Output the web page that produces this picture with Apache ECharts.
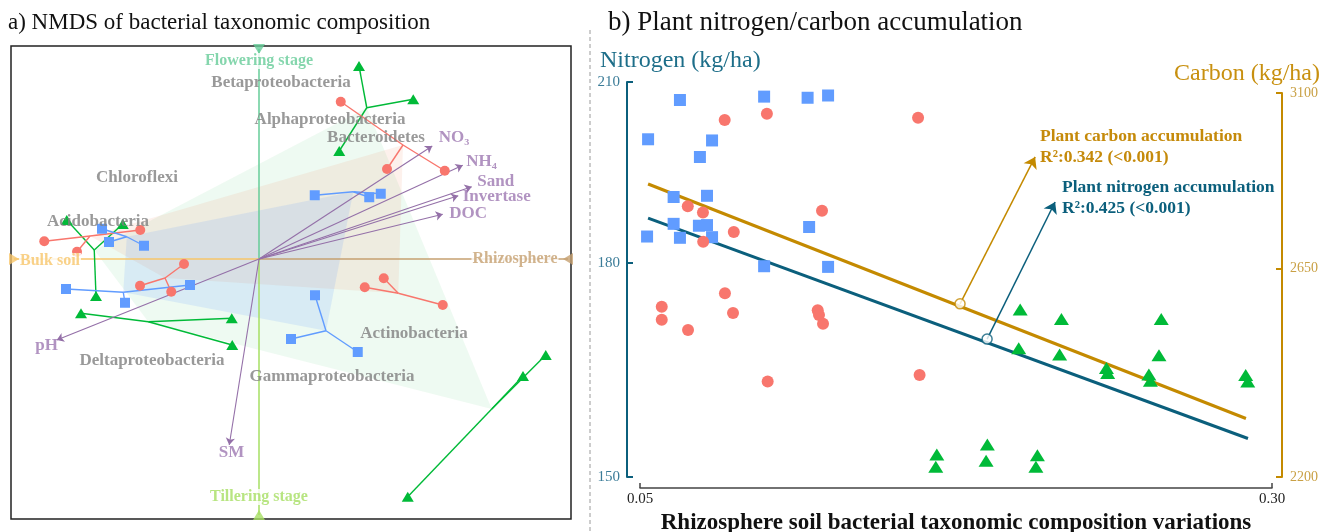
<!DOCTYPE html>
<html><head><meta charset="utf-8">
<script src="https://cdn.jsdelivr.net/npm/echarts@6/dist/echarts.min.js"></script>
<style>html,body{margin:0;padding:0;background:#fff}#c{width:1325px;height:532px}</style>
</head><body><div id="c"></div>
<script>
// ================= Panel a) NMDS data (NMDS1, NMDS2) =================
// groups listed in hull order; each group: centroid + 3 samples
const redCentroids = [[0.576,0.456],[0.557,-0.137],[-0.376,-0.076],[-0.676,0.092]];
const redSamples = [
  [[0.327,0.629],[0.512,0.360],[0.743,0.353]],
  [[0.423,-0.113],[0.499,-0.077],[0.735,-0.184]],
  [[-0.300,-0.020],[-0.476,-0.107],[-0.351,-0.131]],
  [[-0.859,0.071],[-0.728,0.029],[-0.475,0.116]]
];
const blueCentroids = [[0.377,0.269],[0.268,-0.287],[-0.543,-0.133],[-0.529,0.089]];
const blueSamples = [
  [[0.223,0.255],[0.441,0.247],[0.487,0.261]],
  [[0.224,-0.145],[0.128,-0.320],[0.395,-0.372]],
  [[-0.772,-0.120],[-0.536,-0.175],[-0.276,-0.104]],
  [[-0.628,0.121],[-0.600,0.068],[-0.460,0.053]]
];
const greenCentroids = [[0.431,0.605],[0.931,-0.600],[-0.443,-0.251],[-0.659,0.036]];
const greenSamples = [
  [[0.400,0.772],[0.617,0.639],[0.321,0.432]],
  [[1.147,-0.384],[1.056,-0.468],[0.595,-0.951]],
  [[-0.712,-0.217],[-0.109,-0.237],[-0.107,-0.344]],
  [[-0.769,0.156],[-0.545,0.140],[-0.652,-0.148]]
];
const envNames = ['NO\u2083','NH\u2084','Sand','Invertase','DOC','pH','SM'];
const envVectors = [[0.693,0.452],[0.815,0.375],[0.851,0.289],[0.797,0.253],[0.735,0.179],[-0.809,-0.324],[-0.119,-0.744]];
const taxaNames = ['Betaproteobacteria','Alphaproteobacteria','Bacteroidetes','Chloroflexi','Acidobacteria','Deltaproteobacteria','Gammaproteobacteria','Actinobacteria'];
const taxaScores = [[0.088,0.704],[0.284,0.556],[0.468,0.484],[-0.488,0.324],[-0.644,0.148],[-0.428,-0.408],[0.292,-0.472],[0.620,-0.300]];
const gradientNames = ['Flowering stage','Tillering stage','Bulk soil','Rhizosphere'];
const gradientEnds = [[0,0.84],[0,-1.024],[-0.98,0],[1.236,0]];
const gradientLabelAt = [[0,0.792],[0,-0.952],[-0.836,-0.008],[1.024,0]];

// ================= Panel b) data =================
const blueX = [0.0658,0.0991,0.1163,0.1244,0.0532,0.0785,0.0737,0.0633,0.0765,0.0633,0.0733,0.0765,0.0528,0.0658,0.0785,0.1169,0.0991,0.1244];
const blueN = [206.8,207.4,207.2,207.6,200.0,199.8,197.0,190.4,190.6,186.1,185.8,185.9,184.1,183.9,184.0,185.6,179.5,179.4];
const redX = [0.0835,0.1002,0.1600,0.0689,0.0749,0.1220,0.0871,0.0750,0.0836,0.0586,0.0586,0.0868,0.1203,0.1208,0.1224,0.0690,0.1005,0.1606];
const redN = [203.3,204.4,203.7,188.9,187.9,188.2,184.8,183.3,175.4,173.4,171.5,172.5,172.9,172.2,170.9,170.0,162.7,163.6];
const greenX = [0.2004,0.2167,0.2562,0.1998,0.2160,0.2345,0.2350,0.2553,0.2513,0.2519,0.2896,0.2904,0.1674,0.1670,0.1874,0.1869,0.2072,0.2066];
const greenN = [173.0,171.6,171.6,167.4,166.5,164.6,163.9,166.4,163.7,162.8,163.6,162.7,152.9,151.3,154.2,152.1,152.8,151.3];
const fitNX = [0.0532,0.2905];
const fitN = [187.0,155.0];
const fitCX = [0.0532,0.2897];
const fitC = [2858,2318];
const annoCarbonX = [0.1766,0.2063];
const annoCarbonY = [2568,2928];
const annoNitroX = [0.1873,0.2142];
const annoNitroY = [168.7,189.6];
const nTicks = [150,180,210];
const cTicks = [2200,2650,3100];
const xTicks = [0.05,0.30];

// ================= styles =================
const SERIF = '"Liberation Serif","Times New Roman",serif';
const C_RED = '#F8766D', C_GREEN = '#00BA38', C_BLUE = '#619CFF';
const C_N = '#0b5f7c', C_C = '#c48a00';
const L = Math.log10;

function hull(cents, color){
  return {type:'custom', xAxisIndex:0, yAxisIndex:0, z:1, silent:true, data:[0],
    renderItem:(p, api)=>({type:'polygon', shape:{points:cents.map(c=>api.coord(c))}, style:{fill:color}})};
}
function spider(cents, samples, color){
  const d=[];
  cents.forEach((c,g)=>samples[g].forEach(s=>d.push({coords:[c,s]})));
  return {type:'lines', coordinateSystem:'cartesian2d', xAxisIndex:0, yAxisIndex:0, z:3, silent:true,
    data:d, lineStyle:{color:color, width:1.4, opacity:1}, symbol:['none','none']};
}
function pts(samples, symbol, size, color){
  return {type:'scatter', xAxisIndex:0, yAxisIndex:0, z:5, silent:true, symbol, symbolSize:size,
    data:samples.flat(), itemStyle:{color, opacity:1}};
}
const gradColors = ['#66cc99','#a6df63','#f7c66a','#c6a071'];
const gradRot = [180,0,-90,90];
const envOffsets = [[6,-8],[3,-4],[5,-5],[4,1],[6,-1],[-22,6],[-11,8]];

const series = [
  hull(greenCentroids,'rgba(0,186,56,0.065)'),
  hull(redCentroids,'rgba(240,140,100,0.12)'),
  hull(blueCentroids,'rgba(97,156,255,0.15)'),
  {type:'lines', coordinateSystem:'cartesian2d', xAxisIndex:0, yAxisIndex:0, z:2, silent:true,
    data:gradientEnds.map((e,i)=>({coords:[[0,0],e], lineStyle:{color:gradColors[i]}})),
    lineStyle:{width:1.5, opacity:1}, symbol:['none','none']},
  {type:'scatter', xAxisIndex:0, yAxisIndex:0, z:6, silent:true, symbol:'triangle', symbolSize:[12,10],
    data:gradientEnds.map((e,i)=>({value:e, symbolRotate:gradRot[i], itemStyle:{color:gradColors[i]}}))},
  {type:'scatter', xAxisIndex:0, yAxisIndex:0, z:7, silent:true, symbolSize:1, itemStyle:{color:'transparent'},
    data:gradientLabelAt.map((e,i)=>({value:e, name:gradientNames[i],
      label:{show:true, position:'inside', formatter:'{b}', color:gradColors[i], fontFamily:SERIF, fontWeight:'bold', fontSize:16,
        backgroundColor:'#fff', padding:[0,1]}}))},
  spider(greenCentroids, greenSamples, C_GREEN),
  spider(redCentroids, redSamples, C_RED),
  spider(blueCentroids, blueSamples, C_BLUE),
  {type:'lines', coordinateSystem:'cartesian2d', xAxisIndex:0, yAxisIndex:0, z:4, silent:true,
    data:envVectors.map(v=>({coords:[[0,0],v]})), lineStyle:{color:'#9470a8', width:1.1, opacity:1},
    symbol:['none','arrow'], symbolSize:7},
  {type:'scatter', xAxisIndex:0, yAxisIndex:0, z:8, silent:true, symbolSize:1, itemStyle:{color:'transparent'},
    data:envVectors.map((v,i)=>({value:v, name:envNames[i],
      label:{show:true, position:'right', distance:0, offset:envOffsets[i], formatter:'{b}', color:'#9e78b2',
        fontFamily:SERIF, fontWeight:'bold', fontSize:17}}))},
  pts(redSamples,'circle',10,C_RED),
  pts(blueSamples,'rect',10,C_BLUE),
  pts(greenSamples,'triangle',[12,10],C_GREEN),
  {type:'scatter', xAxisIndex:0, yAxisIndex:0, z:9, silent:true, symbolSize:1, itemStyle:{color:'transparent'},
    data:taxaScores.map((v,i)=>({value:v, name:taxaNames[i]})),
    label:{show:true, position:'inside', formatter:'{b}', color:'#7f7f7f', fontFamily:SERIF, fontWeight:'bold', fontSize:17}},
  // ---------- panel b ----------
  {type:'line', xAxisIndex:1, yAxisIndex:1, z:2, silent:true, symbol:'none',
    data:fitNX.map((x,i)=>[x,L(fitN[i])]), lineStyle:{color:C_N, width:3}},
  {type:'line', xAxisIndex:2, yAxisIndex:2, z:2, silent:true, symbol:'none',
    data:fitCX.map((x,i)=>[x,L(fitC[i])]), lineStyle:{color:C_C, width:3}},
  {type:'scatter', xAxisIndex:1, yAxisIndex:1, z:4, silent:true, symbol:'rect', symbolSize:12,
    data:blueX.map((x,i)=>[x,L(blueN[i])]), itemStyle:{color:C_BLUE, opacity:1}},
  {type:'scatter', xAxisIndex:1, yAxisIndex:1, z:4, silent:true, symbol:'circle', symbolSize:12,
    data:redX.map((x,i)=>[x,L(redN[i])]), itemStyle:{color:C_RED, opacity:1}},
  {type:'scatter', xAxisIndex:1, yAxisIndex:1, z:4, silent:true, symbol:'triangle', symbolSize:[15,12],
    data:greenX.map((x,i)=>[x,L(greenN[i])]), itemStyle:{color:C_GREEN, opacity:1}},
  {type:'lines', coordinateSystem:'cartesian2d', xAxisIndex:2, yAxisIndex:2, z:5, silent:true,
    data:[{coords:annoCarbonX.map((x,i)=>[x,L(annoCarbonY[i])])}], lineStyle:{color:C_C, width:1.5, opacity:1},
    symbol:['none','arrow'], symbolSize:11},
  {type:'lines', coordinateSystem:'cartesian2d', xAxisIndex:1, yAxisIndex:1, z:5, silent:true,
    data:[{coords:annoNitroX.map((x,i)=>[x,L(annoNitroY[i])])}], lineStyle:{color:C_N, width:1.5, opacity:1},
    symbol:['none','arrow'], symbolSize:11},
  {type:'scatter', xAxisIndex:2, yAxisIndex:2, z:6, silent:true, symbol:'circle', symbolSize:10,
    data:[[annoCarbonX[0],L(annoCarbonY[0])]], itemStyle:{color:'#fff', borderColor:C_C, borderWidth:1.5}},
  {type:'scatter', xAxisIndex:1, yAxisIndex:1, z:6, silent:true, symbol:'circle', symbolSize:10,
    data:[[annoNitroX[0],L(annoNitroY[0])]], itemStyle:{color:'#fff', borderColor:C_N, borderWidth:1.5}}
];

const xB = {min:xTicks[0], max:xTicks[1], interval:xTicks[1]-xTicks[0], splitLine:{show:false}};
const option = {
  animation:false,
  backgroundColor:'#fff',
  title:[
    {text:'a) NMDS of bacterial taxonomic composition', left:8, top:11, padding:0,
      textStyle:{fontFamily:SERIF, fontSize:23, fontWeight:'normal', color:'#111'}},
    {text:'b) Plant nitrogen/carbon accumulation', left:608, top:9, padding:0,
      textStyle:{fontFamily:SERIF, fontSize:27, fontWeight:'normal', color:'#111'}},
    {text:'Nitrogen (kg/ha)', left:600, top:49, padding:0,
      textStyle:{fontFamily:SERIF, fontSize:24, fontWeight:'normal', color:'#1d6e89'}},
    {text:'Carbon (kg/ha)', right:5, top:62, padding:0,
      textStyle:{fontFamily:SERIF, fontSize:24, fontWeight:'normal', color:'#c8900f'}}
  ],
  graphic:[
    {type:'line', shape:{x1:590,y1:30,x2:590,y2:532}, style:{stroke:'#9a9a9a', lineWidth:1, lineDash:[4,3]}},
    {type:'text', x:1040, y:136, style:{text:'Plant carbon accumulation', font:'bold 17.5px '+SERIF, fill:'#c58a0a', verticalAlign:'middle'}},
    {type:'text', x:1040, y:157, style:{text:'R\u00b2:0.342 (<0.001)', font:'bold 17.5px '+SERIF, fill:'#c58a0a', verticalAlign:'middle'}},
    {type:'text', x:1062, y:187, style:{text:'Plant nitrogen accumulation', font:'bold 17.5px '+SERIF, fill:C_N, verticalAlign:'middle'}},
    {type:'text', x:1062, y:208, style:{text:'R\u00b2:0.425 (<0.001)', font:'bold 17.5px '+SERIF, fill:C_N, verticalAlign:'middle'}}
  ],
  grid:[
    {left:11, top:46, width:560, height:473, show:true, borderColor:'#222', borderWidth:1.5, backgroundColor:'transparent', outerBoundsMode:'none'},
    {left:640, right:53, top:82, bottom:55, outerBoundsMode:'none', containLabel:false},
    {left:640, right:53, top:93, bottom:55, outerBoundsMode:'none', containLabel:false}
  ],
  xAxis:[
    {gridIndex:0, type:'value', min:-0.992, max:1.248, show:false},
    Object.assign({gridIndex:1, type:'value', offset:11,
      axisLine:{lineStyle:{color:'#444', width:1.5}},
      axisTick:{inside:true, length:5, lineStyle:{color:'#444', width:1.5}},
      axisLabel:{margin:4, color:'#222', fontFamily:SERIF, fontSize:15, formatter:v=>v.toFixed(2)},
      name:'Rhizosphere soil bacterial taxonomic composition variations', nameLocation:'middle', nameGap:22,
      nameTextStyle:{fontFamily:SERIF, fontWeight:'bold', fontSize:23, color:'#111'}}, xB),
    Object.assign({gridIndex:2, type:'value', show:false}, xB)
  ],
  yAxis:[
    {gridIndex:0, type:'value', min:-1.04, max:0.852, show:false},
    {gridIndex:1, type:'value', min:L(nTicks[0]), max:L(nTicks[2]), offset:13, splitLine:{show:false},
      axisLine:{show:true, lineStyle:{color:C_N, width:2}},
      axisTick:{show:true, inside:true, length:6, customValues:nTicks.map(L), lineStyle:{color:C_N, width:2}},
      axisLabel:{customValues:nTicks.map(L), margin:7, color:'#3b7c98', fontFamily:SERIF, fontSize:15, formatter:v=>String(Math.round(Math.pow(10,v)))}},
    {gridIndex:2, type:'value', position:'right', min:L(cTicks[0]), max:L(cTicks[2]), offset:10, splitLine:{show:false},
      axisLine:{show:true, lineStyle:{color:C_C, width:2}},
      axisTick:{show:true, inside:true, length:6, customValues:cTicks.map(L), lineStyle:{color:C_C, width:2}},
      axisLabel:{customValues:cTicks.map(L), margin:8, color:'#c9a044', fontFamily:SERIF, fontSize:14, formatter:v=>String(Math.round(Math.pow(10,v)))}}
  ],
  series
};
const chart = echarts.init(document.getElementById('c'), null, {renderer:'canvas'});
chart.setOption(option);
</script></body></html>
